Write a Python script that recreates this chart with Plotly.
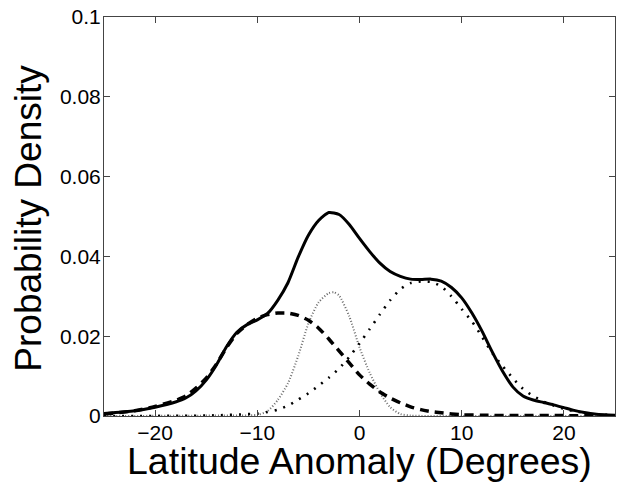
import plotly.graph_objects as go

# Total density (solid)
x_total = [-25, -22, -20, -18, -17, -16, -15, -14, -13, -12, -11, -10, -9, -8, -7, -6, -5, -4, -3, -2, -1,
           0, 1, 2, 3, 4, 5, 6, 7, 8, 9, 10, 11, 12, 13, 14, 15, 16, 17, 18, 19, 20, 21, 22, 23, 24, 25]
y_total = [0.0006, 0.0013, 0.0022, 0.0035, 0.0045, 0.0063, 0.0090, 0.0128, 0.0174, 0.0210, 0.0229, 0.0241,
           0.0257, 0.0290, 0.0334, 0.0398, 0.0453, 0.0490, 0.0510, 0.0505, 0.0480,
           0.0445, 0.0412, 0.0383, 0.0362, 0.0350, 0.0343, 0.0342, 0.0343, 0.0338, 0.0322, 0.0296, 0.0258,
           0.0212, 0.0160, 0.0112, 0.0073, 0.0050, 0.0040, 0.0034, 0.0028, 0.0021, 0.0014, 0.0009, 0.0005,
           0.0003, 0.0002]

# Southern component (dashed)
x_south = [-25, -22, -20, -18, -17, -16, -15, -14, -13, -12, -11, -10, -9, -8, -7, -6, -5, -4, -3, -2, -1,
           0, 1, 2, 3, 4, 5, 6, 7, 8, 10, 12, 15, 20, 25]
y_south = [0.0005, 0.0013, 0.0024, 0.0039, 0.0050, 0.0070, 0.0095, 0.0130, 0.0172, 0.0207, 0.0229, 0.0245,
           0.0254, 0.0258, 0.0258, 0.0252, 0.0240, 0.0220, 0.0193, 0.0163, 0.0133,
           0.0103, 0.0080, 0.0060, 0.0045, 0.0033, 0.0023, 0.0016, 0.0011, 0.0008, 0.0003, 0.0002, 0.0001,
           0.0001, 0.0]

# Central component (grey dotted)
x_center = [-25, -15, -10, -9, -8, -7, -6, -5, -4, -3, -2.5, -2, -1, 0, 1, 2, 3, 4, 5, 10, 25]
y_center = [0.0, 0.0001, 0.0003, 0.0012, 0.0040, 0.0082, 0.0150, 0.0232, 0.0285, 0.0308, 0.0310, 0.0302,
            0.0250, 0.0172, 0.0108, 0.0058, 0.0022, 0.0005, 0.0001, 0.0, 0.0]

# Northern component (sparse dots)
x_north = [-25, -15, -10, -9, -8, -7, -6, -5, -4, -3, -2, -1, 0, 1, 2, 3, 4, 5, 6, 7, 8, 9, 10, 11, 12,
           13, 14, 15, 16, 17, 18, 19, 20, 21, 22, 23, 24, 25]
y_north = [0.0, 0.0001, 0.0006, 0.0010, 0.0016, 0.0026, 0.0041, 0.0057, 0.0076, 0.0096, 0.0119, 0.0148,
           0.0182, 0.0218, 0.0255, 0.0290, 0.0318, 0.0333, 0.0337, 0.0336, 0.0325, 0.0300, 0.0268, 0.0237,
           0.0198, 0.0157, 0.0125, 0.0095, 0.0068, 0.0050, 0.0036, 0.0026, 0.0018, 0.0012, 0.0008, 0.0005,
           0.0003, 0.0002]

x_ticks = [-20, -10, 0, 10, 20]
y_ticks = [0, 0.02, 0.04, 0.06, 0.08, 0.1]
y_tick_text = ["0", "0.02", "0.04", "0.06", "0.08", "0.1"]
x_title = "Latitude Anomaly (Degrees)"
y_title = "Probability Density"

FONT = "Liberation Sans, Arial, Helvetica, sans-serif"

fig = go.Figure()
fig.add_trace(go.Scatter(x=x_center, y=y_center, mode="lines",
                         line=dict(color="#6e6e6e", width=2, dash="1px,2px", shape="spline", smoothing=0.6)))
fig.add_trace(go.Scatter(x=x_north, y=y_north, mode="lines",
                         line=dict(color="black", width=2.6, dash="2px,7px", shape="spline", smoothing=0.6)))
fig.add_trace(go.Scatter(x=x_south, y=y_south, mode="lines",
                         line=dict(color="black", width=3.5, dash="9px,6px", shape="spline", smoothing=0.6)))
fig.add_trace(go.Scatter(x=x_total, y=y_total, mode="lines",
                         line=dict(color="black", width=3, shape="spline", smoothing=0.6)))

axis_common = dict(showline=True, linecolor="#444444", linewidth=1, mirror="ticks",
                   ticks="inside", ticklen=6, tickcolor="#444444", tickwidth=1,
                   showgrid=False, zeroline=False, automargin=False,
                   tickfont=dict(family=FONT, size=21, color="black"))

fig.update_layout(
    width=619, height=482,
    margin=dict(l=104, r=4, t=17, b=66, autoexpand=False),
    paper_bgcolor="white", plot_bgcolor="white",
    showlegend=False,
    xaxis=dict(range=[-25, 25], tickvals=x_ticks, ticklabelstandoff=-2, **axis_common),
    yaxis=dict(range=[0, 0.1], tickvals=y_ticks, ticktext=y_tick_text, ticklabelstandoff=-2, **axis_common),
    annotations=[
        dict(text=x_title, xref="paper", yref="paper", x=0.5, y=-0.1128, xanchor="center", yanchor="middle",
             showarrow=False, font=dict(family=FONT, size=37.5, color="black")),
        dict(text=y_title, xref="paper", yref="paper", x=-0.1468, y=0.497, xanchor="center", yanchor="middle",
             textangle=-90, showarrow=False, font=dict(family=FONT, size=37, color="black")),
    ],
)

fig.write_html("out.html", config={"displayModeBar": False},
               post_script="document.body.style.margin='0px';document.body.style.overflow='hidden';")
